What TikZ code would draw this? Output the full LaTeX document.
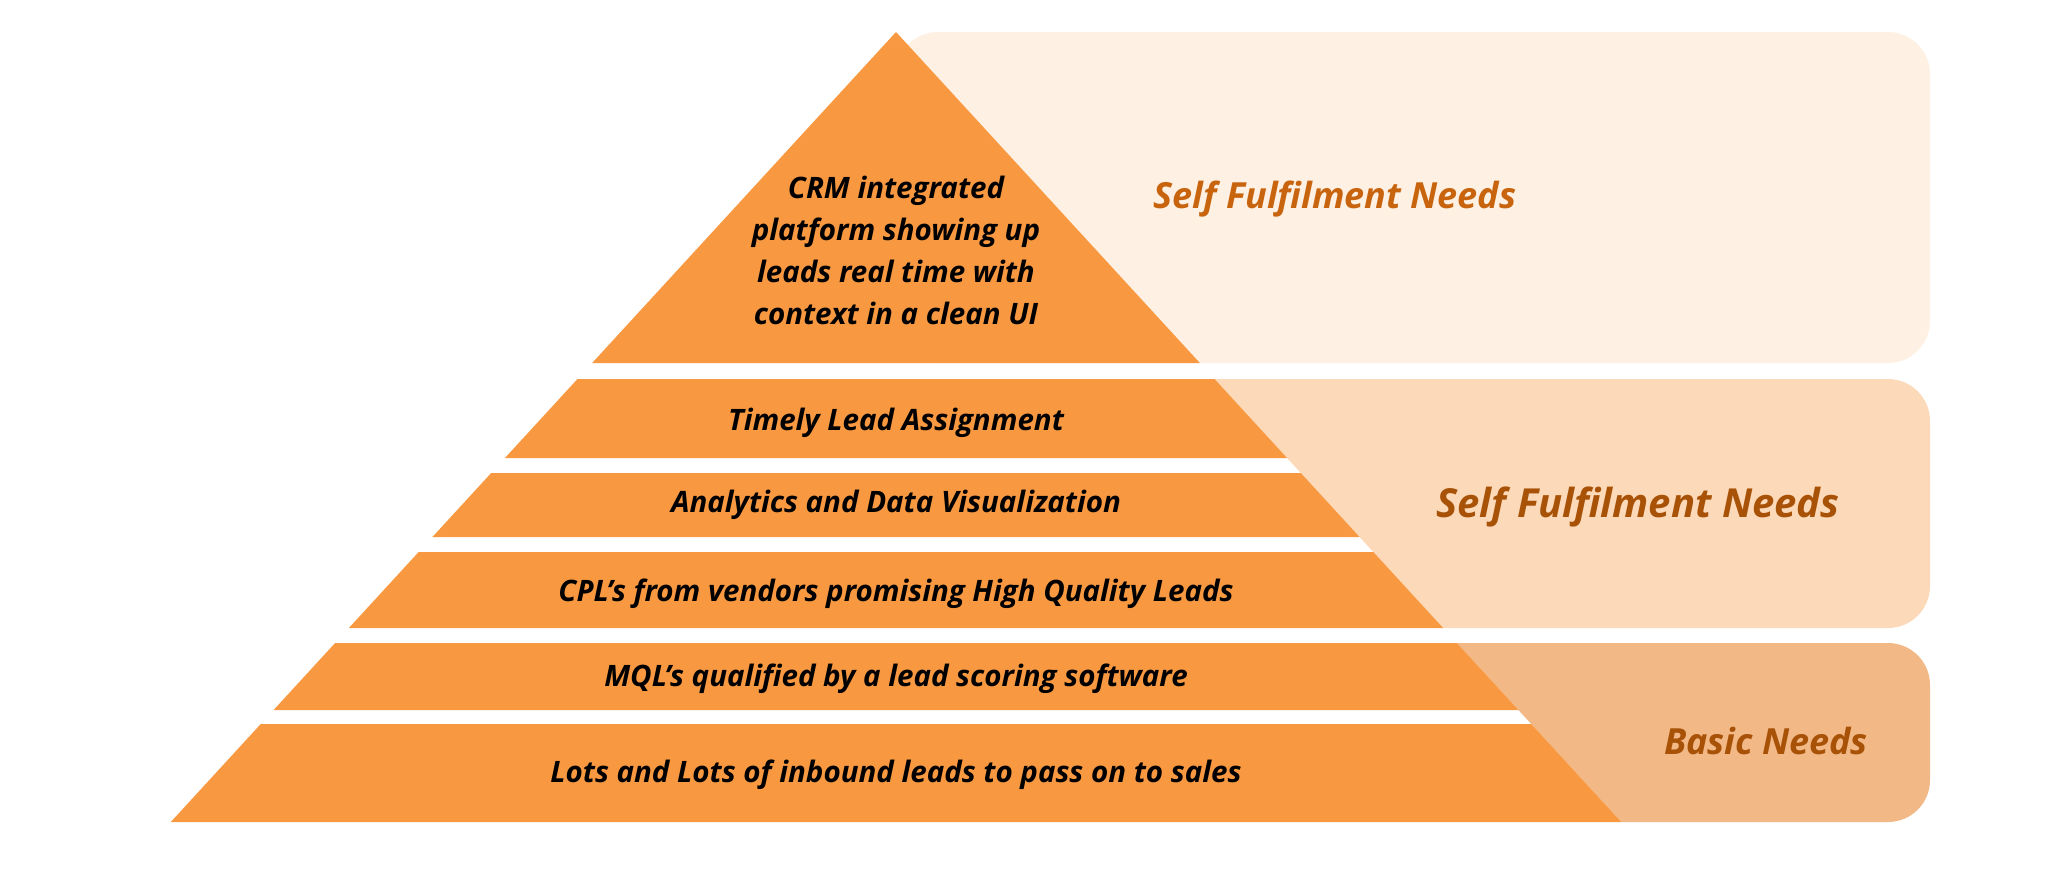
\documentclass[tikz,border=0pt]{standalone}
\usepackage{fontspec}
\setmainfont{Open Sans}
\usepackage{xcolor}
\definecolor{pyr}{HTML}{F89942}
\definecolor{boxA}{HTML}{FEF0E2}
\definecolor{boxB}{HTML}{FCD9B8}
\definecolor{boxC}{HTML}{F2B886}
\definecolor{labA}{HTML}{C9640E}
\definecolor{labB}{HTML}{A85208}
\newcommand{\apos}{\char"0027\relax}
\tikzset{
  band/.style   ={fill=pyr},
  tierlbl/.style={font=\fontsize{29.5}{42}\selectfont\bfseries\itshape,
                  text=black, align=center, inner sep=0pt},
  needlbl/.style={font=\fontsize{36}{40}\selectfont\bfseries\itshape,
                  inner sep=0pt},
  needbox/.style={rounded corners=42pt},
}
\begin{document}
\begin{tikzpicture}[x=1pt, y=-1pt]
  \useasboundingbox (0,0) rectangle (2050,868);
  % side boxes (left part hides behind the pyramid)
  \fill[boxA, needbox] (896,32) rectangle (1930,363);
  \begin{scope}
    \clip (896,32) -- (2050,32) -- (2050,868) -- ({896+0.918*836},868) -- cycle;
    \fill[boxB, needbox] (1100,379) rectangle (1930,628);
    \fill[boxC, needbox] (1300,643) rectangle (1930,822);
  \end{scope}
  % pyramid: tip and five bands
  \fill[band] (896,32) -- ({896-0.918*331},363) -- ({896+0.918*331},363) -- cycle;
  \foreach \t/\b in {379/458, 473/537, 552/628, 643/710, 724/822}
    \fill[band] ({896-0.918*(\t-32)},\t) -- ({896+0.918*(\t-32)},\t)
      -- ({896+0.918*(\b-32)},\b) -- ({896-0.918*(\b-32)},\b) -- cycle;
  % tier texts
  \node[tierlbl] (crm) at (896,250)
    {CRM integrated\\platform showing up\\leads real time with\\context in a clean UI};
  \node[tierlbl] (timely) at (896,423) {Timely Lead Assignment};
  \node[tierlbl] (analytics) at (896,505) {Analytics and Data Visualization};
  \node[tierlbl] (cpl) at (896,594) {CPL\apos s from vendors promising High Quality Leads};
  \node[tierlbl] (mql) at (896,679) {MQL\apos s qualified by a lead scoring software};
  \node[tierlbl] (lots) at (896,775) {Lots and Lots of inbound leads to pass on to sales};
  % need labels
  \node[needlbl, text=labA] (selfA) at (1335,199) {Self Fulfilment Needs};
  \node[needlbl, text=labB, font=\fontsize{40}{44}\selectfont\bfseries\itshape]
    (selfB) at (1638,507) {Self Fulfilment Needs};
  \node[needlbl, text=labB, font=\fontsize{36}{40}\selectfont\bfseries\itshape]
    (basic) at (1766,741) {Basic Needs};
\end{tikzpicture}
\end{document}
